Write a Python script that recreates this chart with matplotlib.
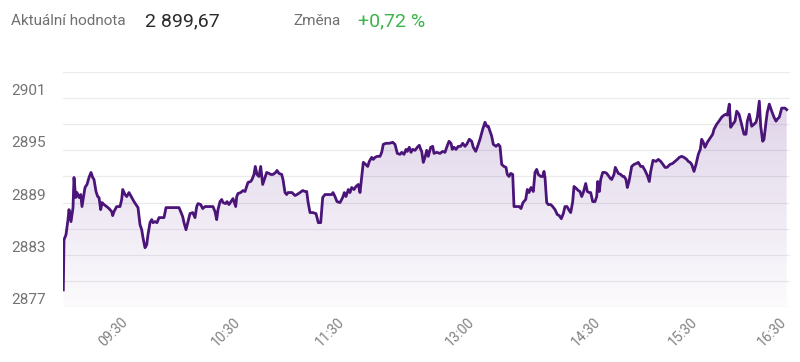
import numpy as np
import matplotlib.pyplot as plt
from matplotlib.colors import LinearSegmentedColormap

plt.rcParams['font.family'] = ['Roboto', 'DejaVu Sans']

# === data: pozice vzorku a hodnota indexu ===
pozice = [0.3, 1, 3, 5, 6, 8, 10, 11, 12.7, 14, 16, 17.7, 19, 22, 24, 26, 28, 29.7, 31, 33, 34.7,
          36, 37.7, 39, 41, 43.7, 46, 48.7, 49.7, 51, 53.7, 57, 58.7, 59.7, 62, 63.7, 66, 68.7,
          71, 73, 75, 77, 78.7, 80, 82, 83.7, 85, 87, 88.7, 90, 92, 94, 96, 98.7, 101, 103, 107,
          112, 116, 117.7, 119.7, 121, 123, 125, 127, 129.7, 132, 133.7, 135, 137.7, 139.7, 142,
          147, 150, 152, 153.7, 155, 157, 158.7, 160, 162.7, 164, 166, 168.7, 170, 172.7, 173.7,
          175, 177.7, 180, 182, 183.7, 185, 187.7, 189, 191, 192.3, 194, 196, 197.7, 199.7, 202,
          203.7, 206, 207.7, 210, 212.7, 214, 216, 218.7, 220, 222, 223.7, 225, 227, 229, 232, 234,
          237, 239.7, 242, 243.7, 245, 247, 249.7, 253, 255.3, 257.7, 259.7, 262, 265, 268.7, 270,
          272, 274, 277, 279.7, 281.3, 283, 285.3, 287, 288.7, 291, 293, 295.3, 297, 298.7, 300.3,
          302.7, 304.7, 306.3, 308.7, 310.3, 312, 314.3, 317, 318.7, 320.3, 323, 326.3, 329.7,
          332, 334.3, 337, 338.7, 341, 343, 344.3, 346.3, 348, 349.7, 352, 354.3, 356.3, 357.7,
          358.7, 360.3, 362, 363.7, 365.3, 367.7, 369.7, 371, 373.7, 377, 379.7, 382, 383.7,
          386, 388, 389.3, 391, 393, 395.3, 397.7, 399.7, 402, 403.7, 406.3, 408.7, 410.3, 412.7,
          414.3, 417, 419.7, 422, 423.7, 425.3, 427, 428.7, 430.3, 433, 435.3, 437, 438.7, 441,
          443, 444.3, 446, 447.7, 449.7, 451, 453.7, 456.3, 458, 460, 462.7, 464.3, 466, 468,
          470.3, 472, 473.7, 475.3, 477.7, 479.7, 481, 482, 483.7, 485.3, 487.7, 489.7, 492,
          494.3, 496.3, 498.3, 500.3, 502, 504, 506.3, 507.7, 509.7, 511, 513.3, 515.3, 517,
          518.7, 520.3, 522.7, 524.3, 526.3, 527.7, 529.7, 532, 533.7, 534.7, 536.3, 537.7, 539.7,
          542, 543.7, 546, 547.3, 548.7, 551, 552.3, 555.3, 557.7, 559.7, 561, 563, 564.3, 566,
          568.7, 571, 573.7, 575.3, 577.7, 579.7, 582, 584.3, 586.3, 587.7, 590, 593, 595.3, 597.7,
          600, 602, 604, 607, 609.7, 612, 614.3, 616.3, 618.7, 621, 623.7, 625.3, 627, 628.7,
          629.7, 631, 633, 635.3, 637.3, 638.7, 640.3, 642, 644.3, 647, 649.7, 651, 653.7, 656,
          658.7, 661, 663, 664.3, 666.3, 667.7, 669.7, 672, 673.7, 676, 677.3, 681, 683, 684.3,
          686.3, 688.7, 691, 693, 694.3, 696.3, 697.7, 699.7, 701, 703, 704.3, 706.3, 708.7, 711,
          713, 714.3, 716.3, 718.7, 722, 723.7]
hodnoty = [2878.96, 2884.73, 2885.31, 2887.04, 2888.19, 2886.81, 2888.42, 2891.88, 2889.58, 2890.15,
           2889.58, 2889.92, 2888.54, 2890.73, 2891.08, 2891.88, 2892.46, 2891.88, 2891.65, 2890.27,
           2889.69, 2889.58, 2888.19, 2889.0, 2888.77, 2888.54, 2888.31, 2887.96, 2887.5, 2887.96,
           2888.54, 2888.54, 2889.35, 2890.5, 2889.92, 2889.69, 2890.15, 2889.58, 2889.11, 2888.77,
           2888.42, 2886.46, 2885.88, 2884.96, 2883.81, 2884.15, 2885.31, 2886.69, 2887.04, 2886.69,
           2886.81, 2886.69, 2887.27, 2887.27, 2887.27, 2888.42, 2888.42, 2888.42, 2888.42, 2887.96,
           2887.38, 2886.69, 2885.88, 2886.81, 2887.73, 2887.85, 2887.27, 2888.54, 2888.88, 2888.77,
           2888.31, 2888.54, 2888.54, 2888.54, 2887.96, 2887.04, 2888.19, 2889.11, 2889.35, 2889.0,
           2888.88, 2889.11, 2888.77, 2889.23, 2889.46, 2888.54, 2889.69, 2890.04, 2890.15, 2890.38,
           2890.27, 2890.85, 2891.31, 2891.42, 2891.65, 2892.23, 2893.15, 2892.23, 2892.0, 2893.15,
           2891.08, 2891.88, 2892.46, 2892.35, 2892.23, 2892.23, 2892.46, 2892.69, 2892.35, 2892.23,
           2891.65, 2890.15, 2889.92, 2890.15, 2890.15, 2890.15, 2889.81, 2889.92, 2890.15, 2890.38,
           2890.27, 2890.27, 2889.11, 2887.85, 2887.85, 2887.73, 2886.69, 2886.69, 2889.58, 2889.92,
           2889.92, 2889.92, 2890.15, 2889.69, 2889.11, 2889.0, 2889.58, 2890.15, 2889.69, 2890.5,
           2890.15, 2890.73, 2890.5, 2890.85, 2891.08, 2890.15, 2891.88, 2893.62, 2893.38, 2893.15,
           2893.73, 2894.19, 2893.96, 2894.19, 2894.31, 2894.31, 2894.77, 2895.69, 2895.81, 2895.81,
           2895.92, 2895.69, 2894.65, 2894.54, 2894.77, 2894.54, 2895.11, 2894.88, 2895.35, 2894.77,
           2895.11, 2895.0, 2895.35, 2895.58, 2895.11, 2894.88, 2893.62, 2894.19, 2895.0, 2894.31,
           2895.35, 2895.46, 2894.65, 2894.77, 2894.65, 2894.88, 2894.77, 2895.35, 2896.04, 2895.81,
           2895.11, 2895.35, 2895.11, 2895.46, 2895.46, 2895.81, 2895.46, 2895.69, 2896.27, 2896.04,
           2895.35, 2894.88, 2895.35, 2896.27, 2897.42, 2898.23, 2897.77, 2897.77, 2897.19, 2896.62,
           2895.69, 2895.46, 2895.69, 2895.46, 2893.38, 2893.15, 2893.04, 2892.23, 2892.0, 2892.35,
           2892.23, 2888.54, 2888.54, 2888.54, 2888.31, 2889.0, 2889.35, 2890.5, 2890.15, 2890.73,
           2890.27, 2892.46, 2892.81, 2892.23, 2892.0, 2892.0, 2892.58, 2891.88, 2889.0, 2888.77,
           2888.77, 2888.54, 2888.19, 2887.62, 2887.5, 2887.15, 2887.73, 2888.54, 2888.54, 2888.08,
           2887.85, 2889.11, 2890.85, 2890.62, 2890.38, 2890.27, 2889.69, 2890.15, 2891.19, 2890.27,
           2890.15, 2890.15, 2889.11, 2889.11, 2889.69, 2891.42, 2890.27, 2891.65, 2892.46, 2892.46,
           2892.35, 2892.0, 2891.77, 2891.65, 2892.23, 2893.04, 2892.35, 2892.23, 2892.0, 2892.0,
           2891.65, 2890.73, 2891.42, 2893.15, 2893.38, 2893.5, 2893.62, 2893.15, 2893.15, 2892.69,
           2892.12, 2891.42, 2892.58, 2893.85, 2893.73, 2893.96, 2893.73, 2893.38, 2893.04, 2893.04,
           2893.38, 2893.5, 2893.73, 2893.96, 2894.19, 2894.31, 2894.19, 2893.96, 2893.73, 2893.62,
           2893.38, 2893.04, 2892.58, 2893.38, 2894.54, 2895.11, 2896.27, 2895.92, 2895.35, 2895.92,
           2896.38, 2896.85, 2897.42, 2898.0, 2898.35, 2898.81, 2899.04, 2899.15, 2899.04, 2900.31,
           2897.65, 2898.0, 2898.35, 2899.5, 2899.15, 2898.58, 2896.85, 2896.85, 2898.35, 2899.15,
           2897.77, 2898.0, 2898.23, 2898.81, 2900.65, 2897.77, 2896.04, 2896.27, 2898.23, 2899.38,
           2900.31, 2899.5, 2898.81, 2898.35, 2898.58, 2898.81, 2899.85, 2899.85, 2899.67]

casy = ['09:30', '10:30', '11:30', '13:00', '14:30', '15:30', '16:30']
pozice_casu = [68, 180, 284, 414, 540, 637, 726]

y_popisky = [2877, 2883, 2889, 2895, 2901]
y_mrizka = [2880, 2886, 2892, 2898, 2904]

aktualni = '2 899,67'
zmena = '+0,72 %'

W, H = 800, 362
fig = plt.figure(figsize=(W / 100, H / 100), dpi=100)
ax = fig.add_axes([63 / W, 1 - 307 / H, (790 - 63) / W, (307 - 72) / H])

# vypln s prechodem
fill = ax.fill_between(pozice, hodnoty, 2877, color='none', lw=0)
cmap = LinearSegmentedColormap.from_list(
    'fialova', [(0.36, 0.13, 0.55, 0.02), (0.36, 0.13, 0.55, 0.22)])
grad = np.linspace(0, 1, 256).reshape(-1, 1)
img = ax.imshow(grad, cmap=cmap, aspect='auto', origin='lower',
                extent=[0, 727, 2877, 2904], zorder=1)
img.set_clip_path(fill.get_paths()[0], transform=ax.transData)

ax.plot(pozice, hodnoty, color='#4a1479', lw=2.0, zorder=3,
        solid_joinstyle='round')

ax.set_xlim(0, 727)
ax.set_ylim(2877, 2904)

ax.set_xticks(pozice_casu)
ax.set_xticklabels(casy, rotation=45, ha='right', fontsize=10, color='#808080')
ax.set_yticks(y_popisky)
ax.set_yticks(y_mrizka, minor=True)
ax.set_yticklabels([str(v) for v in y_popisky], fontsize=11, color='#737373')
for lab in ax.get_yticklabels():
    lab.set_ha('left')
    lab.set_va('bottom')
ax.tick_params(axis='y', which='both', length=0, pad=37)
ax.tick_params(axis='x', length=0, pad=6)
ax.grid(axis='y', which='both', color='#ebebeb', lw=0.9, zorder=0)
ax.set_axisbelow(True)
for s in ax.spines.values():
    s.set_visible(False)

# === hlavicka ===
fig.text(11 / W, 1 - 21 / H, 'Aktuální hodnota', fontsize=11, color='#707070', va='center')
fig.text(145 / W, 1 - 21 / H, aktualni, fontsize=14, color='#2b2b2b', va='center')
fig.text(293 / W, 1 - 21 / H, 'Změna', fontsize=11, color='#707070', va='center')
fig.text(358 / W, 1 - 21 / H, zmena, fontsize=14, color='#3cb44b', va='center')

fig.savefig('out.png', dpi=100)
